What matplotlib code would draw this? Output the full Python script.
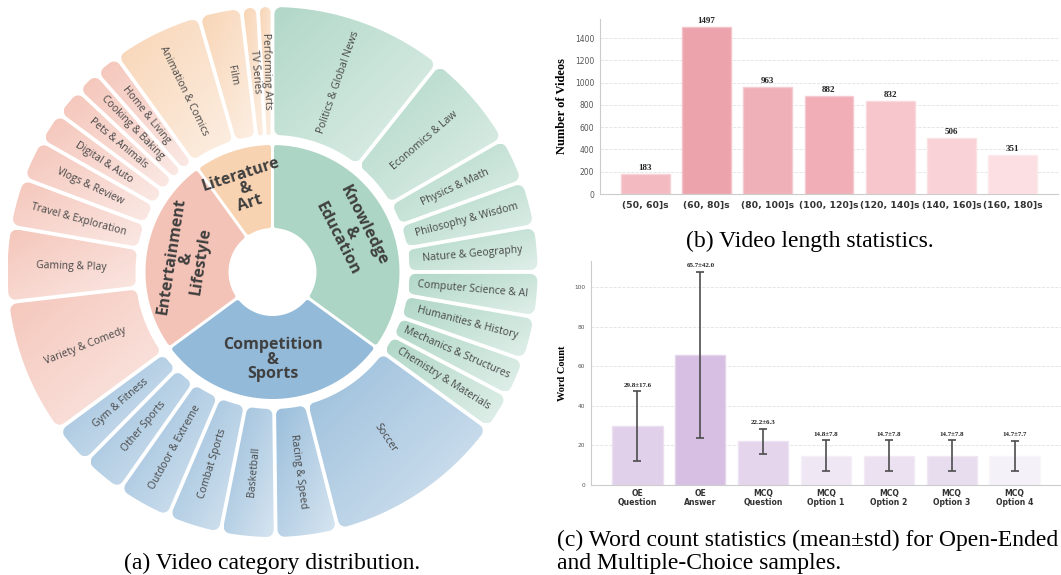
import numpy as np
import matplotlib
matplotlib.use("Agg")
import matplotlib.pyplot as plt
from matplotlib.path import Path
from matplotlib.patches import PathPatch
from matplotlib.colors import to_rgb

# ---------------- data ----------------
group_labels = ["Knowledge\n&\nEducation", "Competition\n&\nSports",
                "Entertainment\n&\nLifestyle", "Literature\n&\nArt"]

knowledge_labels = ["Politics & Global News", "Economics & Law", "Physics & Math",
                    "Philosophy & Wisdom", "Nature & Geography", "Computer Science & AI",
                    "Humanities & History", "Mechanics & Structures", "Chemistry & Materials"]
knowledge_values = [558, 311, 145, 145, 145, 142, 138, 123, 119]

sports_labels = ["Soccer", "Racing & Speed", "Basketball", "Combat Sports",
                 "Outdoor & Extreme", "Other Sports", "Gym & Fitness"]
sports_values = [574, 198, 174, 171, 174, 138, 130]

entertain_labels = ["Variety & Comedy", "Gaming & Play", "Travel & Exploration",
                    "Vlogs & Review", "Digital & Auto", "Pets & Animals",
                    "Cooking & Baking", "Home & Living"]
entertain_values = [432, 238, 156, 130, 101, 94, 78, 81]

literature_labels = ["Animation & Comics", "Film", "TV Series", "Performing Arts"]
literature_values = [287, 136, 52, 46]

length_bins = ["(50, 60]s", "(60, 80]s", "(80, 100]s", "(100, 120]s",
               "(120, 140]s", "(140, 160]s", "(160, 180]s"]
length_counts = [183, 1497, 963, 882, 832, 506, 351]

word_categories = ["OE\nQuestion", "OE\nAnswer", "MCQ\nQuestion", "MCQ\nOption 1",
                   "MCQ\nOption 2", "MCQ\nOption 3", "MCQ\nOption 4"]
word_means = [29.8, 65.7, 22.2, 14.8, 14.7, 14.7, 14.7]
word_stds = [17.6, 42.0, 6.3, 7.8, 7.8, 7.8, 7.7]

# ---------------- styles ----------------
group_colors = ["#acd5c5", "#94bad9", "#f4c3b7", "#f8d3b2"]
length_colors = ["#f4bac2", "#eca3ac", "#f0b0b8", "#f1aeb6", "#f6c6cc", "#f9d2d7", "#fcdfe3"]
word_colors = ["#e1d0e9", "#d6bfe2", "#e4d5ec", "#efe7f3", "#ebe1f0", "#e8ddee", "#f5f1f8"]

SANS = ["Open Sans", "DejaVu Sans"]
SERIF = ["Liberation Serif", "DejaVu Serif"]

W, H = 1061, 575
fig = plt.figure(figsize=(W / 100, H / 100), dpi=100)


def mix(c, a):
    c = np.array(to_rgb(c))
    return c * (1 - a) + a


def u(t):
    return np.array([np.cos(t), np.sin(t)])


def nrm(t):
    return np.array([-np.sin(t), np.cos(t)])


def ang(v):
    return np.arctan2(v[1], v[0])


def arc(c, rad, a0, a1, n=8):
    da = (a1 - a0 + np.pi) % (2 * np.pi) - np.pi
    return [c + rad * u(a) for a in a0 + da * np.linspace(0, 1, n)]


def sector_path(t1, t2, r, R, d, rc_in, rc_out, n=40):
    half = (t2 - t1) / 2
    s = np.sin(min(half, np.pi / 2 - 1e-3))
    rc_o = max(0.01, min(rc_out, (s * R - d) / (1 + s)))
    rc_i = max(0.01, min(rc_in, (s * r - d) / (1 - s)))
    do = np.arcsin(min(1, (d + rc_o) / (R - rc_o)))
    di = np.arcsin(min(1, (d + rc_i) / (r + rc_i)))
    pts = []
    Ei1 = (r + rc_i) * np.cos(di) * u(t1) + d * nrm(t1)
    Eo1 = (R - rc_o) * np.cos(do) * u(t1) + d * nrm(t1)
    Co1 = (R - rc_o) * u(t1 + do)
    pts.append(Ei1)
    pts += arc(Co1, rc_o, ang(Eo1 - Co1), t1 + do)
    pts += [R * u(t) for t in np.linspace(t1 + do, t2 - do, n)]
    Co2 = (R - rc_o) * u(t2 - do)
    Eo2 = (R - rc_o) * np.cos(do) * u(t2) - d * nrm(t2)
    pts += arc(Co2, rc_o, t2 - do, ang(Eo2 - Co2))
    Ei2 = (r + rc_i) * np.cos(di) * u(t2) - d * nrm(t2)
    Ci2 = (r + rc_i) * u(t2 - di)
    pts += arc(Ci2, rc_i, ang(Ei2 - Ci2), t2 - di + np.pi)
    pts += [r * u(t) for t in np.linspace(t2 - di, t1 + di, n)]
    Ci1 = (r + rc_i) * u(t1 + di)
    pts += arc(Ci1, rc_i, t1 + di + np.pi, ang(Ei1 - Ci1))
    pts.append(Ei1)
    pts = np.array(pts)
    codes = [Path.MOVETO] + [Path.LINETO] * (len(pts) - 2) + [Path.CLOSEPOLY]
    return Path(pts, codes)


def text_rot(mid_deg):
    m = (mid_deg + 180) % 360 - 180
    if m > 90:
        m -= 180
    elif m < -90:
        m += 180
    return m


# ---------------- (a) sunburst ----------------
cx, cy = 272.5, 272
axa = fig.add_axes([0, 0, 546 / W, 1])
axa.set_xlim(-cx, 546 - cx)
axa.set_ylim(-(H - cy), cy)
axa.axis("off")

r0, r1 = 44, 127
r2, r3 = 137, 265

outer_groups = [(knowledge_labels, knowledge_values), (sports_labels, sports_values),
                (entertain_labels, entertain_values), (literature_labels, literature_values)]
total = sum(sum(v) for _, v in outer_groups)

start = 90.0
for gi, (labs, vals) in enumerate(outer_groups):
    gsum = sum(vals)
    gspan = 360.0 * gsum / total
    g_end = start - gspan
    # inner ring
    p = sector_path(np.radians(g_end), np.radians(start), r0, r1, 1.5, 2.5, 2.5)
    axa.add_patch(PathPatch(p, facecolor=group_colors[gi], edgecolor="none"))
    mid = (start + g_end) / 2
    rm = (r0 + r1) / 2 + 2
    axa.text(rm * np.cos(np.radians(mid)), rm * np.sin(np.radians(mid)), group_labels[gi],
             rotation=text_rot(mid - 90), rotation_mode="anchor", ha="center", va="center",
             fontsize=11.5, fontweight="bold", color="#3f3f3f", family=SANS, linespacing=0.9)
    # outer ring
    a = start
    c0 = mix(group_colors[gi], 0.06)
    c1 = mix(group_colors[gi], 0.62)
    for lab, v in zip(labs, vals):
        span = 360.0 * v / total
        b = a - span
        p = sector_path(np.radians(b), np.radians(a), r2, r3, 1.9, 6, 7)
        patch = PathPatch(p, facecolor="none", edgecolor="none")
        axa.add_patch(patch)
        x0, y0 = p.vertices.min(axis=0)
        x1, y1 = p.vertices.max(axis=0)
        gx, gy = np.meshgrid(np.linspace(0, 1, 64), np.linspace(0, 1, 64))
        tt = (gx + gy) / 2  # row 0 = top (origin upper)
        img = c0[None, None, :] * (1 - tt[..., None]) + c1[None, None, :] * tt[..., None]
        im = axa.imshow(img, extent=(x0, x1, y0, y1), origin="upper",
                        interpolation="bilinear", aspect="auto", zorder=1)
        im.set_clip_path(patch)
        m = (a + b) / 2
        rm = (r2 + r3) / 2
        axa.text(rm * np.cos(np.radians(m)), rm * np.sin(np.radians(m)), lab,
                 rotation=text_rot(m), rotation_mode="anchor", ha="center", va="center",
                 fontsize=7.5, color="#474747", family=SANS, zorder=3)
        a = b
    start = g_end

axa.set_xlim(-cx, 546 - cx)
axa.set_ylim(-(H - cy), cy)

fig.text(272 / W, 1 - 563 / H, "(a) Video category distribution.", ha="center", va="center",
         fontsize=17, family=SERIF)

# ---------------- (b) video length ----------------
axb = fig.add_axes([600 / W, 1 - 194 / H, 458 / W, 175 / H])
xb = np.arange(len(length_bins))
axb.bar(xb, length_counts, width=0.8, color=length_colors,
        edgecolor=[mix(c, 0.35) for c in length_colors], linewidth=1.0, zorder=2)
axb.set_ylim(0, max(length_counts) * 1.05)
axb.set_yticks(np.arange(0, 1401, 200))
axb.set_xticks(xb)
axb.set_xticklabels(length_bins, fontsize=6.7, fontweight="bold", color="#333333",
                    family=["DejaVu Sans"])
for t in axb.get_yticklabels():
    t.set_fontsize(5.5)
    t.set_color("#555555")
axb.tick_params(axis="both", length=0, pad=4)
axb.tick_params(axis="x", pad=5)
for xv, v in zip(xb, length_counts):
    axb.text(xv, v + 18, str(v), ha="center", va="bottom", fontsize=6.5,
             fontweight="bold", family=SERIF, color="#222222")
axb.set_ylabel("Number of Videos", fontsize=9, fontweight="bold", family=SERIF)
axb.yaxis.set_label_coords(-0.07, 0.5)
axb.grid(axis="y", linestyle="--", color="#e2e2e2", linewidth=0.6, zorder=0)
axb.set_axisbelow(True)
for s in ["top", "right"]:
    axb.spines[s].set_visible(False)
for s in ["left", "bottom"]:
    axb.spines[s].set_color("#cccccc")
    axb.spines[s].set_linewidth(0.8)

fig.text(810 / W, 1 - 241 / H, "(b) Video length statistics.", ha="center", va="center",
         fontsize=17, family=SERIF)

# ---------------- (c) word count ----------------
axc = fig.add_axes([591 / W, 1 - 485 / H, (W - 591) / W, 224 / H])
xc = np.arange(len(word_categories))
axc.bar(xc, word_means, width=0.8, color=word_colors,
        edgecolor=[mix(c, 0.35) for c in word_colors], linewidth=1.0, zorder=2,
        yerr=word_stds, error_kw=dict(ecolor="#4d4d4d", elinewidth=1.2, capsize=3,
                                      capthick=1.2, zorder=3))
top = max(m + s for m, s in zip(word_means, word_stds))
axc.set_ylim(0, top * 1.05)
axc.set_yticks(np.arange(0, 101, 20))
axc.set_xticks(xc)
axc.set_xticklabels(word_categories, fontsize=5.6, fontweight="bold", color="#333333",
                    family=["DejaVu Sans"], linespacing=1.0)
for t in axc.get_yticklabels():
    t.set_fontsize(4.2)
    t.set_color("#555555")
axc.tick_params(axis="both", length=0, pad=4)
axc.tick_params(axis="x", pad=3)
for xv, m, s in zip(xc, word_means, word_stds):
    axc.text(xv, m + s + 1.8, f"{m:.1f}\u00b1{s:.1f}", ha="center", va="bottom", fontsize=5,
             fontweight="bold", family=SERIF, color="#222222")
axc.set_ylabel("Word Count", fontsize=7.5, fontweight="bold", family=SERIF)
axc.yaxis.set_label_coords(-0.052, 0.5)
axc.grid(axis="y", linestyle="--", color="#e2e2e2", linewidth=0.6, zorder=0)
axc.set_axisbelow(True)
for s in ["top", "right"]:
    axc.spines[s].set_visible(False)
for s in ["left", "bottom"]:
    axc.spines[s].set_color("#cccccc")
    axc.spines[s].set_linewidth(0.8)

fig.text(557 / W, 1 - 540 / H, "(c) Word count statistics (mean\u00b1std) for Open-Ended",
         ha="left", va="center", fontsize=17, family=SERIF)
fig.text(557 / W, 1 - 563 / H, "and Multiple-Choice samples.",
         ha="left", va="center", fontsize=17, family=SERIF)

fig.savefig("out.png", dpi=100)
